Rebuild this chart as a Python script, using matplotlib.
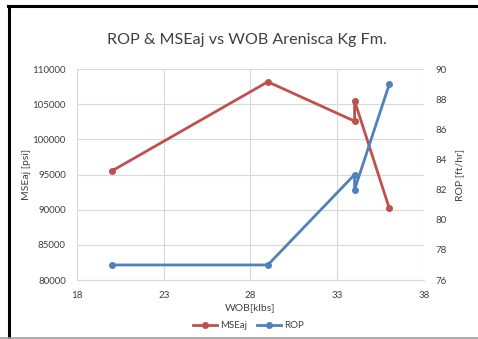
import matplotlib
matplotlib.use("Agg")
import matplotlib.pyplot as plt
from matplotlib.lines import Line2D

wob_mse = [20, 29, 34, 34, 36]
mse = [95500, 108200, 102600, 105500, 90200]
wob_rop = [20, 29, 34, 34, 36]
rop = [77, 77, 83, 82, 89]

red = "#C0504D"
blue = "#4F81BD"
plt.rcParams['font.family'] = ['Lato', 'DejaVu Sans']

fig = plt.figure(figsize=(4.78, 3.39), dpi=100)
ax = fig.add_axes([0.161, 0.174, 0.726, 0.622])
ax2 = ax.twinx()

l1, = ax.plot(wob_mse, mse, color=red, lw=2, marker='o', ms=4, label='MSEaj')
l2, = ax2.plot(wob_rop, rop, color=blue, lw=2, marker='o', ms=4, label='ROP')

ax.set_xlim(18, 38)
ax.set_xticks([18, 23, 28, 33, 38])
ax.set_ylim(80000, 110000)
ax.set_yticks(range(80000, 110001, 5000))
ax2.set_ylim(76, 90)
ax2.set_yticks(range(76, 91, 2))

ax.grid(True, color='#D9D9D9', lw=0.8)
ax.set_axisbelow(True)
for a in (ax, ax2):
    for s in a.spines.values():
        s.set_visible(False)
    a.tick_params(length=0, labelsize=7, colors='#404040')
ax.spines['bottom'].set_visible(True)
ax.spines['bottom'].set_color('#D9D9D9')
ax.tick_params(axis='x', pad=8)
ax.tick_params(axis='y', pad=8)
ax2.tick_params(axis='y', pad=8)

ax.set_xlabel('WOB[klbs]', fontsize=7.5, color='#404040', labelpad=2)
ax.set_ylabel('MSEaj [psi]', fontsize=7.5, color='#404040', labelpad=1)
ax2.set_ylabel('ROP [ft/hr]', fontsize=7.5, color='#404040', labelpad=6)

fig.text(0.516, 0.882, 'ROP & MSEaj vs WOB Arenisca Kg Fm.', ha='center', va='center',
         fontsize=11.6, color='#404040')

fig.legend(handles=[l1, l2], loc='center', bbox_to_anchor=(0.52, 0.04), ncol=2,
           frameon=False, fontsize=7, handlelength=2.5, columnspacing=1.0, handletextpad=0.3,
           labelcolor='#404040')

# screenshot borders
fig.add_artist(Line2D([0.017, 1.0], [0.982, 0.982], color='black', lw=2.2, transform=fig.transFigure))
fig.add_artist(Line2D([0.018, 0.018], [0.004, 0.982], color='black', lw=2.2, transform=fig.transFigure))
fig.add_artist(Line2D([0.0, 1.0], [0.004, 0.004], color='#A0A0A0', lw=1.2, transform=fig.transFigure))

fig.savefig('out.png', dpi=100)
